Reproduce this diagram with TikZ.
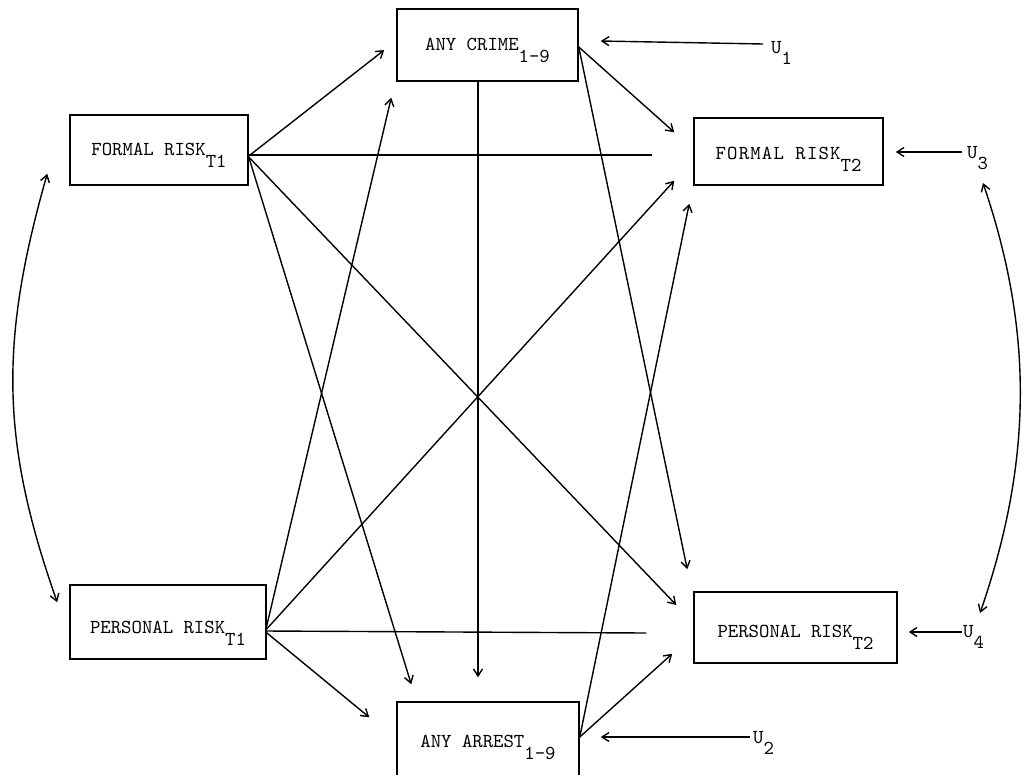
\documentclass[tikz,border=0pt]{standalone}
\usepackage{fontspec}
\newfontfamily\tw{lmmono10-regular.otf}
\usetikzlibrary{arrows.meta,calc}
\newcommand{\lowr}[1]{\raisebox{-12pt}{#1}}
\newcommand{\lowu}[1]{\raisebox{-11pt}{#1}}
\begin{document}
\begin{tikzpicture}[x=1pt,y=-1pt,
  every node/.style={font=\tw\fontsize{19.8}{24}\selectfont},
  box/.style={draw, line width=1.5pt, rectangle, inner sep=0pt, text depth=14pt},
  conn/.style={line width=1.4pt},
  tipb/.tip={Straight Barb[length=7pt,width=9pt]},
  arr/.style={conn, -tipb},
  dbl/.style={conn, tipb-tipb},
  ulab/.style={anchor=base west, inner sep=0pt}]
\useasboundingbox (0,0) rectangle (1022,774);
\clip (0,0) rectangle (1022,774);
% boxes
\node[box, minimum width=181pt, minimum height=72pt, text height=24pt] (crime) at (487.5,45) {ANY CRIME\lowr{1-9}};
\node[box, minimum width=178pt, minimum height=70pt, text height=24pt] (fr1) at (159,150) {FORMAL RISK\lowr{T1}};
\node[box, minimum width=189pt, minimum height=67pt, text height=29pt] (fr2) at (788.5,151.5) {{\addfontfeature{LetterSpace=6}FORMAL RISK}\lowr{T2}};
\node[box, minimum width=196pt, minimum height=74pt, text height=36pt] (pr1) at (168,622) {PERSONAL RISK\lowr{T1}};
\node[box, minimum width=203pt, minimum height=71pt, text height=33pt] (pr2) at (795.5,627.5) {PERSONAL RISK\lowr{T2}};
\node[box, minimum width=182pt, minimum height=88pt, text height=16pt] (arrest) at (488,746) {ANY ARREST\lowr{1-9}};
% disturbance labels
\node[ulab] (u1) at (771,53) {U\lowu{1}};
\node[ulab] (u2) at (753,743) {U\lowu{2}};
\node[ulab] (u3) at (967,158) {U\lowu{3}};
\node[ulab] (u4) at (963,637) {U\lowu{4}};
% disturbance arrows
\draw[arr] ($(u1.base west)+(-8,-9)$) -- ($(crime.east)+(22,-4)$);
\draw[arr] ($(u2.base west)+(-3,-6)$) -- ($(arrest.east)+(21,-9)$);
\draw[arr] ($(u3.base west)+(-5,-6)$) -- ($(fr2.east)+(12,0.5)$);
\draw[arr] ($(u4.base west)+(-1,-5)$) -- ($(pr2.east)+(11,4.5)$);
% from FORMAL RISK T1
\draw[arr] ($(fr1.east)+(0,6)$) -- ($(crime.west)+(-12,5)$);
\draw[conn] ($(fr1.east)+(0,5)$) -- ($(fr2.west)+(-41,3.5)$);
\draw[arr] ($(fr1.east)+(0,7)$) -- ($(pr2.west)+(-17,-22.5)$);
\draw[arr] ($(fr1.east)+(0,7)$) -- ($(arrest.north west)+(15,-17)$);
% from PERSONAL RISK T1
\draw[arr] ($(pr1.east)+(-1,8)$) -- ($(crime.south west)+(-5,16)$);
\draw[arr] ($(pr1.east)+(-1,8)$) -- ($(fr2.south west)+(-19,-5)$);
\draw[conn] ($(pr1.east)+(-1,9)$) -- ($(pr2.west)+(-47,5.5)$);
\draw[arr] ($(pr1.east)+(-1,10)$) -- ($(arrest.north west)+(-27,16)$);
% from ANY CRIME
\draw[arr] ($(crime.east)+(0,2)$) -- ($(fr2.north west)+(-19,15)$);
\draw[arr] ($(crime.east)+(0,2)$) -- ($(pr2.north west)+(-6,-22)$);
\draw[arr] ($(crime.south)+(-9.5,0)$) -- ($(arrest.north)+(-10,-24)$);
% from ANY ARREST
\draw[arr] ($(arrest.east)+(0,-9)$) -- ($(fr2.south west)+(-4,18)$);
\draw[arr] ($(arrest.east)+(0,-9)$) -- ($(pr2.south west)+(-21,-10)$);
% correlations
\draw[dbl] ($(fr1.south west)+(-22,-12)$) .. controls (0,340) and (0,440) .. ($(pr1.north west)+(-12,18)$);
\draw[dbl] ($(u3.base west)+(16,25)$) .. controls (1033,330) and (1033,460) .. ($(u4.base west)+(17,-24)$);
\end{tikzpicture}
\end{document}
